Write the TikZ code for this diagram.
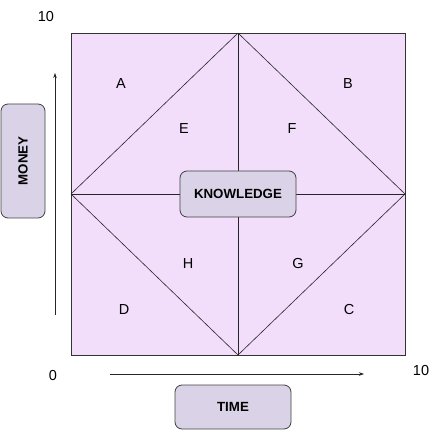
\documentclass[tikz,border=0pt]{standalone}
\usepackage{fontspec}
\setmainfont{Liberation Sans}
\usetikzlibrary{arrows.meta}
\definecolor{gridfill}{HTML}{F2DDFB}
\definecolor{boxfill}{HTML}{DAD3E8}
\begin{document}
\begin{tikzpicture}
          [x=1pt,y=-1pt,font=\fontsize{14.5}{17}\selectfont,
           tag/.style={draw=black!75, fill=boxfill, rounded corners=7pt, line width=0.8pt, font=\fontsize{13.3}{16}\selectfont\bfseries},
           letter/.style={inner sep=0pt}]
        \useasboundingbox (0,0) rectangle (444,430);
        % corners and midpoints of the grid
        \coordinate (tl) at (71,33);
        \coordinate (br) at (405,355);
        \coordinate (mt) at (238,33);
        \coordinate (mr) at (405,194);
        \coordinate (mb) at (238,355);
        \coordinate (ml) at (71,194);

        \draw[fill=gridfill, draw=black!80, line width=0.8pt] (tl) rectangle (br);
        \foreach \from/\to in {mt/mb, ml/mr, mt/mr, mr/mb, mb/ml, ml/mt}
          \draw[black!85, line width=0.6pt] (\from) -- (\to);

        \node[tag, minimum width=116pt, minimum height=46pt] (know) at (238,194) {KNOWLEDGE};

        \node[letter] (a) at (121,84) {A};
        \node[letter] (b) at (348,84) {B};
        \node[letter] (e) at (184,129) {E};
        \node[letter] (f) at (292,129) {F};
        \node[letter] (h) at (188,264) {H};
        \node[letter] (g) at (298,264) {G};
        \node[letter] (d) at (124,310) {D};
        \node[letter] (c) at (349,310) {C};

        % axes
        \coordinate (y0) at (55,315);
        \coordinate (y1) at (55,73);
        \coordinate (x0) at (110,374);
        \coordinate (x1) at (364,374);
        \draw[-{Stealth[length=5pt,width=3.5pt]}, black!85, line width=0.6pt] (y0) -- (y1);
        \draw[-{Stealth[length=5pt,width=3.5pt]}, black!85, line width=0.6pt] (x0) -- (x1);

        \node (ymax) at (46,17) {10};
        \node (orig) at (53,376) {0};
        \node (xmax) at (421,371) {10};

        \node[tag, minimum width=114pt, minimum height=44pt, rotate=90] (money) at (23,161) {MONEY};
        \node[tag, minimum width=116pt, minimum height=44pt] (time) at (233,407) {TIME};
      \end{tikzpicture}
\end{document}
